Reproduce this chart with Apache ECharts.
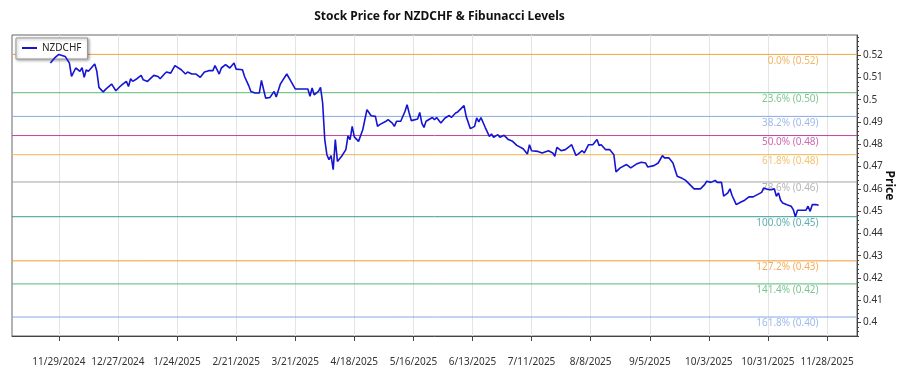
<!DOCTYPE html>
<html>
<head>
<meta charset="utf-8">
<script src="https://cdn.jsdelivr.net/npm/echarts@6.0.0/dist/echarts.min.js"></script>
<style>
html,body{margin:0;padding:0;background:#fff;}
#chart{width:900px;height:375px;}
</style>
</head>
<body>
<div id="chart"></div>
<script>
const dates = ['2024-11-25','2024-11-27','2024-11-29','2024-12-02','2024-12-04','2024-12-05','2024-12-07','2024-12-09','2024-12-10','2024-12-11','2024-12-12','2024-12-13','2024-12-16','2024-12-17','2024-12-18','2024-12-20','2024-12-21','2024-12-24','2024-12-25','2024-12-26','2024-12-28','2024-12-29','2024-12-31','2025-01-01','2025-01-02','2025-01-03','2025-01-05','2025-01-07','2025-01-08','2025-01-10','2025-01-12','2025-01-13','2025-01-15','2025-01-16','2025-01-18','2025-01-19','2025-01-21','2025-01-23','2025-01-26','2025-01-28','2025-01-29','2025-01-31','2025-02-02','2025-02-04','2025-02-06','2025-02-08','2025-02-10','2025-02-11','2025-02-13','2025-02-14','2025-02-16','2025-02-18','2025-02-20','2025-02-21','2025-02-24','2025-02-25','2025-02-27','2025-02-28','2025-03-02','2025-03-04','2025-03-05','2025-03-07','2025-03-09','2025-03-11','2025-03-12','2025-03-14','2025-03-17','2025-03-19','2025-03-21','2025-03-23','2025-03-27','2025-03-28','2025-03-29','2025-03-30','2025-04-01','2025-04-02','2025-04-03','2025-04-04','2025-04-05','2025-04-06','2025-04-07','2025-04-08','2025-04-09','2025-04-10','2025-04-12','2025-04-14','2025-04-15','2025-04-16','2025-04-17','2025-04-18','2025-04-20','2025-04-22','2025-04-24','2025-04-26','2025-04-28','2025-04-29','2025-04-30','2025-05-03','2025-05-04','2025-05-06','2025-05-07','2025-05-08','2025-05-10','2025-05-12','2025-05-13','2025-05-14','2025-05-15','2025-05-18','2025-05-19','2025-05-20','2025-05-21','2025-05-22','2025-05-25','2025-05-26','2025-05-27','2025-05-29','2025-05-31','2025-06-02','2025-06-03','2025-06-05','2025-06-06','2025-06-09','2025-06-10','2025-06-12','2025-06-14','2025-06-15','2025-06-16','2025-06-17','2025-06-19','2025-06-21','2025-06-22','2025-06-23','2025-06-25','2025-06-26','2025-06-28','2025-06-30','2025-07-02','2025-07-04','2025-07-07','2025-07-09','2025-07-10','2025-07-11','2025-07-14','2025-07-16','2025-07-19','2025-07-21','2025-07-22','2025-07-23','2025-07-25','2025-07-27','2025-07-29','2025-07-30','2025-08-01','2025-08-02','2025-08-04','2025-08-05','2025-08-07','2025-08-09','2025-08-11','2025-08-12','2025-08-13','2025-08-15','2025-08-17','2025-08-19','2025-08-20','2025-08-22','2025-08-25','2025-08-27','2025-08-30','2025-09-01','2025-09-03','2025-09-04','2025-09-07','2025-09-09','2025-09-11','2025-09-12','2025-09-14','2025-09-16','2025-09-17','2025-09-18','2025-09-20','2025-09-22','2025-09-24','2025-09-26','2025-09-29','2025-10-01','2025-10-02','2025-10-04','2025-10-06','2025-10-07','2025-10-09','2025-10-10','2025-10-12','2025-10-13','2025-10-14','2025-10-16','2025-10-18','2025-10-20','2025-10-22','2025-10-24','2025-10-26','2025-10-28','2025-10-29','2025-10-31','2025-11-02','2025-11-03','2025-11-04','2025-11-05','2025-11-06','2025-11-07','2025-11-09','2025-11-11','2025-11-12','2025-11-13','2025-11-14','2025-11-16','2025-11-18','2025-11-19','2025-11-20','2025-11-21','2025-11-23','2025-11-24'];

const prices = [0.5164,0.5187,0.5203,0.5194,0.5164,0.5104,0.5142,0.5127,0.5144,0.5100,0.5134,0.5127,0.5160,0.5127,0.5055,0.5034,0.5045,0.5070,0.5055,0.5040,0.5059,0.5067,0.5082,0.5059,0.5094,0.5082,0.5094,0.5109,0.5089,0.5082,0.5100,0.5109,0.5104,0.5094,0.5115,0.5124,0.5119,0.5153,0.5134,0.5115,0.5124,0.5115,0.5115,0.5100,0.5124,0.5130,0.5130,0.5153,0.5115,0.5142,0.5157,0.5142,0.5164,0.5137,0.5134,0.5104,0.5062,0.5037,0.5030,0.5030,0.5086,0.5007,0.5010,0.5037,0.5012,0.5071,0.5115,0.5082,0.5048,0.5048,0.5048,0.5015,0.5052,0.5022,0.5037,0.5055,0.4985,0.4821,0.4753,0.4731,0.4749,0.4686,0.4821,0.4723,0.4746,0.4776,0.4838,0.4821,0.4880,0.4833,0.4813,0.4865,0.4955,0.4928,0.4925,0.4880,0.4888,0.4903,0.4910,0.4895,0.4880,0.4903,0.4903,0.4947,0.4977,0.4940,0.4906,0.4913,0.4943,0.4895,0.4875,0.4903,0.4920,0.4910,0.4920,0.4895,0.4918,0.4929,0.4920,0.4940,0.4945,0.4973,0.4925,0.4870,0.4880,0.4918,0.4900,0.4920,0.4876,0.4835,0.4846,0.4831,0.4843,0.4831,0.4840,0.4821,0.4813,0.4795,0.4780,0.4756,0.4798,0.4771,0.4768,0.4761,0.4771,0.4761,0.4746,0.4786,0.4771,0.4776,0.4790,0.4798,0.4750,0.4756,0.4771,0.4761,0.4798,0.4798,0.4821,0.4795,0.4798,0.4776,0.4776,0.4753,0.4676,0.4694,0.4709,0.4694,0.4713,0.4719,0.4716,0.4698,0.4704,0.4716,0.4749,0.4739,0.4739,0.4716,0.4686,0.4656,0.4649,0.4638,0.4619,0.4600,0.4600,0.4619,0.4634,0.4629,0.4638,0.4629,0.4629,0.4567,0.4582,0.4600,0.4570,0.4529,0.4540,0.4549,0.4564,0.4564,0.4574,0.4584,0.4604,0.4597,0.4597,0.4600,0.4567,0.4582,0.4549,0.4537,0.4529,0.4522,0.4507,0.4475,0.4504,0.4504,0.4504,0.4522,0.4499,0.4529,0.4529,0.4526];

const tickDates = ['2024-11-29','2024-12-27','2025-01-24','2025-02-21','2025-03-21','2025-04-18','2025-05-16','2025-06-13','2025-07-11','2025-08-08','2025-09-05','2025-10-03','2025-10-31','2025-11-28'];
const yTickValues = [0.40,0.41,0.42,0.43,0.44,0.45,0.46,0.47,0.48,0.49,0.50,0.51,0.52];
const fibRatios = [0, 0.236, 0.382, 0.5, 0.618, 0.786, 1, 1.272, 1.414, 1.618];
const fibColors = ['#f2a43a','#5cb874','#86a9e6','#c0449f','#f0b44c','#a4a4a4','#3a9a9a','#f39a33','#58b675','#86a9e6'];

function toTime(s){ const p = s.split('-').map(Number); return new Date(p[0], p[1]-1, p[2]).getTime(); }
const xs = dates.map(toTime);
const span = xs[xs.length-1]-xs[0];
const xMin = xs[0] - 0.05*span;
const xMax = xs[xs.length-1] + 0.05*span;
const high = Math.max(...prices), low = Math.min(...prices);
const levels = fibRatios.map(r => high - r*(high-low));
const lastX = xs[xs.length-1];

const FONT = 'Noto Sans';
const yMinorTicks = [];
for (let i = 0; i <= 70; i++) { const v = Math.round((0.394 + 0.002*i)*1000)/1000; if (v <= 0.529) yMinorTicks.push(v); }

const fibLineSeries = levels.map((lv, i) => ({
  name: 'fib' + i, type: 'line', data: [[xMin, lv], [xMax, lv]],
  symbol: 'none', showSymbol: false, silent: true, z: 2,
  color: fibColors[i], lineStyle: {color: fibColors[i], width: 1, type: 'solid'}
}));

const chart = echarts.init(document.getElementById('chart'));
chart.setOption({
  animation: false,
  textStyle: {fontFamily: FONT},
  title: {
    text: 'Stock Price for NZDCHF & Fibunacci Levels',
    left: 434.5, textAlign: 'center', top: 6,
    textStyle: {fontFamily: FONT, fontSize: 12, fontWeight: 'bold', color: '#111'}
  },
  legend: {
    left: 16, top: 38, padding: [5, 6, 6, 6],
    backgroundColor: '#fff', borderColor: '#999', borderWidth: 1,
    shadowBlur: 3, shadowColor: 'rgba(0,0,0,0.35)', shadowOffsetX: 1, shadowOffsetY: 1,
    itemWidth: 15, itemHeight: 2, itemGap: 4, icon: 'rect',
    textStyle: {fontFamily: FONT, fontSize: 10, color: '#222'},
    data: ['NZDCHF']
  },
  grid: {left: 12, right: 43, top: 35, bottom: 39, outerBoundsMode: 'none', containLabel: false,
    show: true, borderColor: '#666', borderWidth: 1, backgroundColor: 'transparent'},
  xAxis: {
    type: 'value', min: xMin, max: xMax,
    axisLine: {show: true, lineStyle: {color: '#444'}},
    axisTick: {show: true, length: 5, lineStyle: {color: '#444'}, customValues: tickDates.map(toTime)},
    axisLabel: {
      customValues: tickDates.map(toTime), margin: 21, fontSize: 10, color: '#333', fontFamily: FONT,
      formatter: v => { const d = new Date(v); return (d.getMonth()+1) + '/' + d.getDate() + '/' + d.getFullYear(); }
    },
    splitLine: {show: true, lineStyle: {color: '#e4e4e4', width: 1}}
  },
  yAxis: [{
    type: 'value', position: 'right', min: 0.394, max: 0.529,
    name: 'Price', nameLocation: 'middle', nameRotate: -90, nameGap: 26, nameMoveOverlap: false,
    nameTextStyle: {fontFamily: FONT, fontSize: 12, fontWeight: 'bold', color: '#111'},
    axisLine: {show: true, lineStyle: {color: '#444'}},
    axisTick: {show: true, length: 4, lineStyle: {color: '#444'}, customValues: yTickValues},
    axisLabel: {customValues: yTickValues, margin: 6, fontSize: 10, color: '#333', fontFamily: FONT,
      formatter: v => String(Math.round(v*100)/100)},
    splitLine: {show: false}
  }, {
    type: 'value', position: 'right', min: 0.394, max: 0.529,
    axisLine: {show: false},
    axisTick: {show: true, length: 2, lineStyle: {color: '#444'}, customValues: yMinorTicks},
    axisLabel: {show: false},
    splitLine: {show: false}
  }],
  series: [{
    name: 'NZDCHF', type: 'line', data: xs.map((t, i) => [t, prices[i]]),
    showSymbol: false, symbol: 'none', color: '#1414d2',
    lineStyle: {color: '#1414d2', width: 1.6}, z: 5
  }].concat(fibLineSeries, [{
    name: 'fibLabels', type: 'scatter', symbolSize: 1, z: 4,
    itemStyle: {color: 'rgba(0,0,0,0)'},
    data: levels.map((lv, i) => ({
      value: [lastX, lv],
      label: {
        show: true, position: 'bottom', distance: 1, align: 'right',
        formatter: (fibRatios[i]*100).toFixed(1) + '% (' + lv.toFixed(2) + ')',
        color: fibColors[i], fontSize: 10, fontFamily: FONT
      }
    })),
    silent: true
  }])
});
</script>
</body>
</html>
